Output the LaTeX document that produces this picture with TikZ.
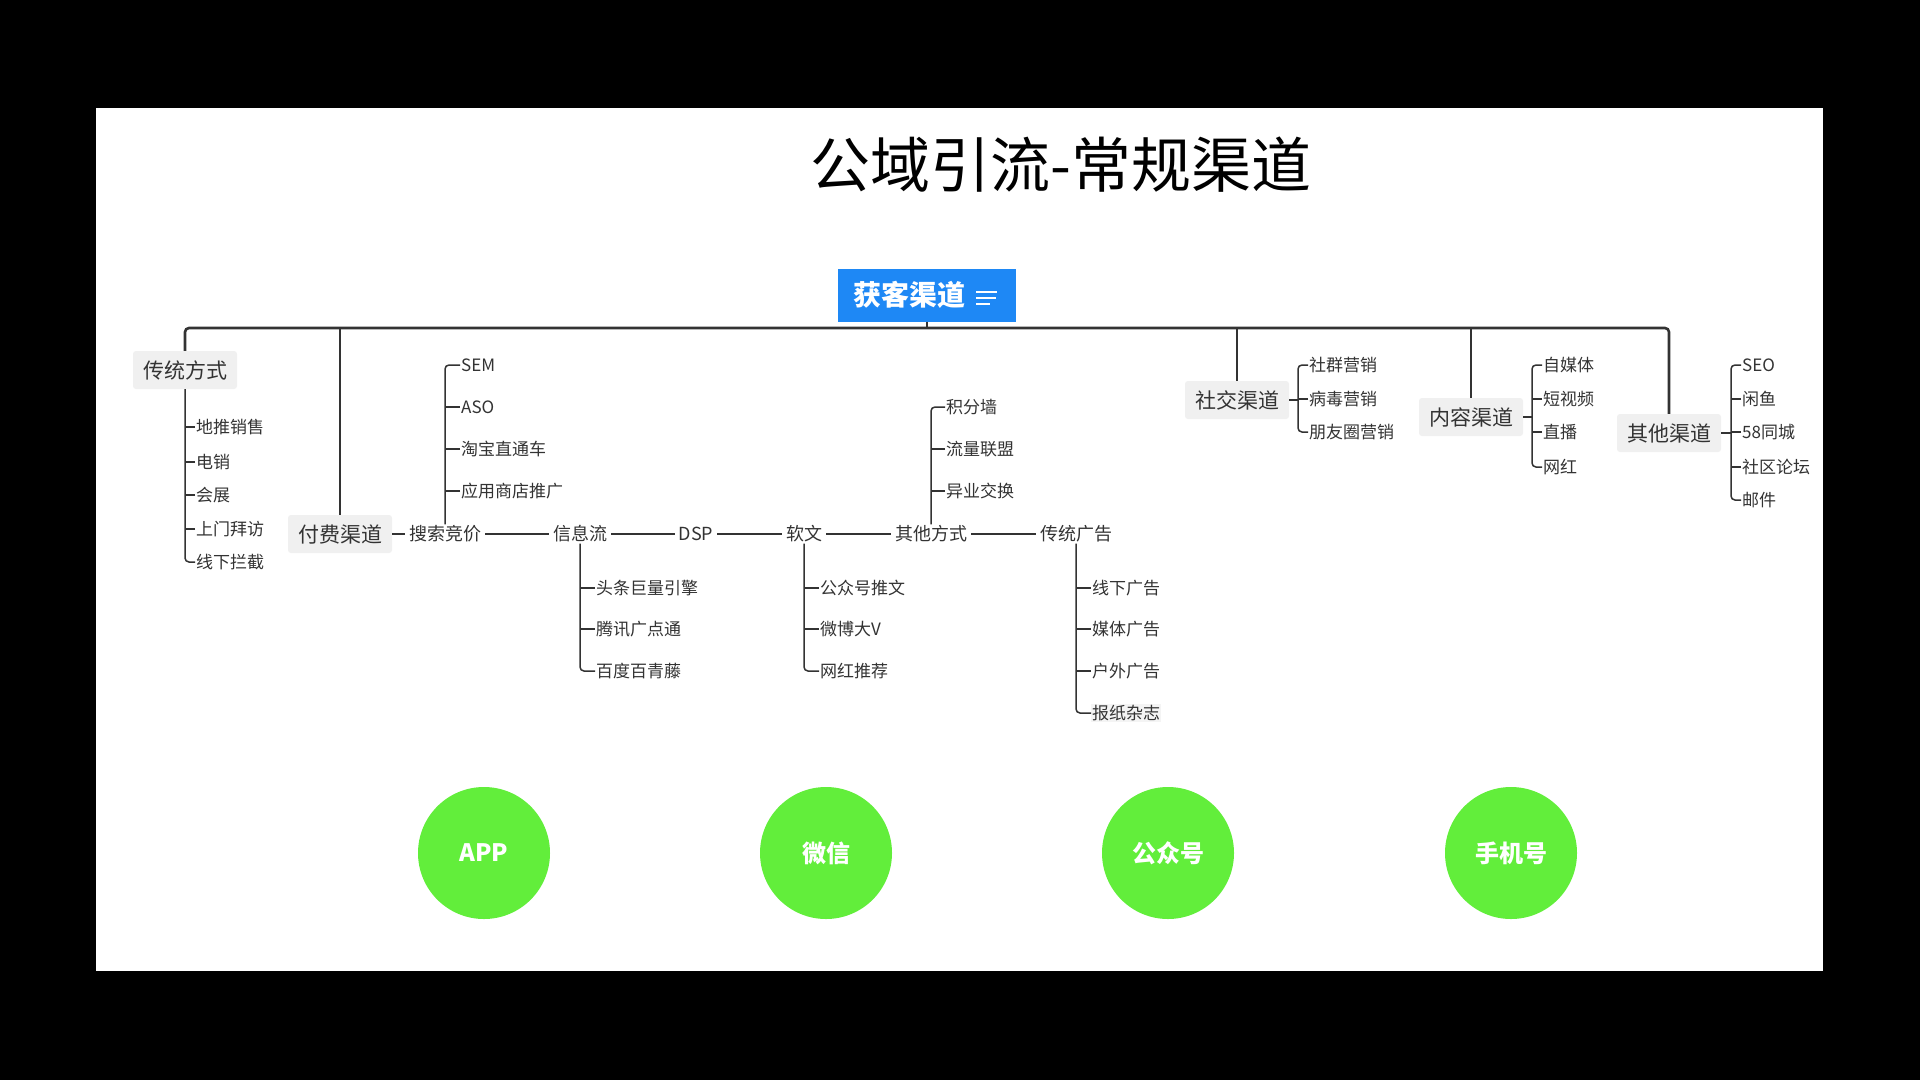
\documentclass[tikz,border=0pt]{standalone}
\usepackage{fontspec}
\setmainfont{Noto Sans CJK SC}
\definecolor{lineg}{HTML}{333333}
\definecolor{boxg}{HTML}{F0F0F0}
\definecolor{rootblue}{HTML}{1E88F5}
\definecolor{dotgreen}{HTML}{62EE3B}

\begin{document}
\begin{tikzpicture}
	[x=1pt,y=-1pt,
	bus/.style={draw=lineg,line width=2.6pt,rounded corners=4pt},
	twig/.style={draw=lineg,line width=1.5pt,rounded corners=4pt},
	rootbox/.style={fill=rootblue,text=white,minimum width=178pt,minimum height=53pt,inner sep=0pt,font=\fontsize{28}{32}\selectfont\bfseries},
	chan/.style={fill=boxg,rounded corners=3pt,text=lineg,font=\fontsize{21}{24}\selectfont,inner xsep=10pt,minimum height=38pt},
	mid/.style={fill=white,text=lineg,font=\fontsize{18}{21}\selectfont,inner xsep=4pt,inner ysep=1pt},
	leaf/.style={anchor=west,text=lineg,font=\fontsize{17}{20}\selectfont,inner sep=1pt},
	dot/.style={circle,fill=dotgreen,minimum size=132pt,text=white,font=\fontsize{24}{28}\selectfont\bfseries}]
	\useasboundingbox (0,0) rectangle (1920,1080);
	\fill[black] (0,0) rectangle (1920,1080);
	\fill[white] (96,108) rectangle (1823,971);

	\node[font=\fontsize{60}{66}\selectfont] (title) at (1061,165) {公域引流-常规渠道};

	\node[rootbox] (root) at (927,295) {\hbox to 148pt{获客渠道\hfil}};
	\draw[white,line width=1.8pt] (976,292) -- ++(21,0) (976,298) -- ++(20,0) (976,304) -- ++(14,0);

	\node[chan] (ctfs) at (185,370) {传统方式};
	\node[chan] (ffqd) at (340,534) {付费渠道};
	\node[chan] (sjqd) at (1237,400) {社交渠道};
	\node[chan] (nrqd) at (1471,417) {内容渠道};
	\node[chan] (qtqd) at (1669,433) {其他渠道};

	\coordinate (busc) at (927,328);
	\draw[bus] (ctfs.north) |- (busc) -| (qtqd.north);
	\draw[bus] (root.south) -- (busc);
	\foreach \n in {ffqd,sjqd,nrqd}
		\draw[bus] (\n.north) -- (\n.north |- busc);

	\foreach \t/\y [count=\i] in {地推销售/427,电销/462,会展/495,上门拜访/529,线下拦截/562}
		\node[leaf] (ct\i) at (195,\y) {\t};
	\draw[twig] (ctfs.south) |- (ct5.west);
	\foreach \i in {1,...,4}
		\draw[twig] (ct\i.west) -- (ct\i.west -| ctfs.south);

	\node[mid] (ssjj) at (445,534) {搜索竞价};
	\node[mid] (xxl) at (580,534) {信息流};
	\node[mid] (dsp) at (696,534) {DSP};
	\node[mid] (rw) at (804,534) {软文};
	\node[mid] (qtfs) at (931,534) {其他方式};
	\node[mid] (ctgg) at (1076,534) {传统广告};
	\draw[twig] (ffqd) -- (ssjj) -- (xxl) -- (dsp) -- (rw) -- (qtfs) -- (ctgg);

	\foreach \t/\y [count=\i] in {SEM/365,ASO/407,淘宝直通车/449,应用商店推广/491}
		\node[leaf] (ss\i) at (460,\y) {\t};
	\draw[twig] (ssjj.north) |- (ss1.west);
	\foreach \i in {2,3,4}
		\draw[twig] (ss\i.west) -- (ss\i.west -| ssjj.north);

	\foreach \t/\y [count=\i] in {头条巨量引擎/588,腾讯广点通/629,百度百青藤/671}
		\node[leaf] (xx\i) at (595,\y) {\t};
	\draw[twig] (xxl.south) |- (xx3.west);
	\foreach \i in {1,2}
		\draw[twig] (xx\i.west) -- (xx\i.west -| xxl.south);

	\foreach \t/\y [count=\i] in {公众号推文/588,微博大V/629,网红推荐/671}
		\node[leaf] (rw\i) at (819,\y) {\t};
	\draw[twig] (rw.south) |- (rw3.west);
	\foreach \i in {1,2}
		\draw[twig] (rw\i.west) -- (rw\i.west -| rw.south);

	\foreach \t/\y [count=\i] in {积分墙/407,流量联盟/449,异业交换/491}
		\node[leaf] (qf\i) at (945,\y) {\t};
	\draw[twig] (qtfs.north) |- (qf1.west);
	\foreach \i in {2,3}
		\draw[twig] (qf\i.west) -- (qf\i.west -| qtfs.north);

	\foreach \t/\y [count=\i] in {线下广告/588,媒体广告/629,户外广告/671}
		\node[leaf] (cg\i) at (1091,\y) {\t};
	\node[leaf,fill=boxg!70] (cg4) at (1091,713) {报纸杂志};
	\draw[twig] (ctgg.south) |- (cg4.west);
	\foreach \i in {1,2,3}
		\draw[twig] (cg\i.west) -- (cg\i.west -| ctgg.south);

	\coordinate (sjj) at (1298,400);
	\foreach \t/\y [count=\i] in {社群营销/365,病毒营销/399,朋友圈营销/432}
		\node[leaf] (sj\i) at (1308,\y) {\t};
	\draw[twig] (sjqd.east) -- (sjj);
	\draw[twig] (sj1.west) -| (sjj) |- (sj3.west);
	\draw[twig] (sj2.west) -- (sj2.west -| sjj);

	\coordinate (nrj) at (1532,417);
	\foreach \t/\y [count=\i] in {自媒体/365,短视频/399,直播/432,网红/467}
		\node[leaf] (nr\i) at (1542,\y) {\t};
	\draw[twig] (nrqd.east) -- (nrj);
	\draw[twig] (nr1.west) -| (nrj) |- (nr4.west);
	\foreach \i in {2,3}
		\draw[twig] (nr\i.west) -- (nr\i.west -| nrj);

	\coordinate (qtj) at (1731,433);
	\foreach \t/\y [count=\i] in {SEO/365,闲鱼/399,58同城/432,社区论坛/467,邮件/500}
		\node[leaf] (qt\i) at (1741,\y) {\t};
	\draw[twig] (qtqd.east) -- (qtj);
	\draw[twig] (qt1.west) -| (qtj) |- (qt5.west);
	\foreach \i in {2,3,4}
		\draw[twig] (qt\i.west) -- (qt\i.west -| qtj);

	\foreach \t/\x [count=\i] in {APP/484,微信/826,公众号/1168,手机号/1511}
		\node[dot] (d\i) at (\x,853) {\t};
\end{tikzpicture}
\end{document}
